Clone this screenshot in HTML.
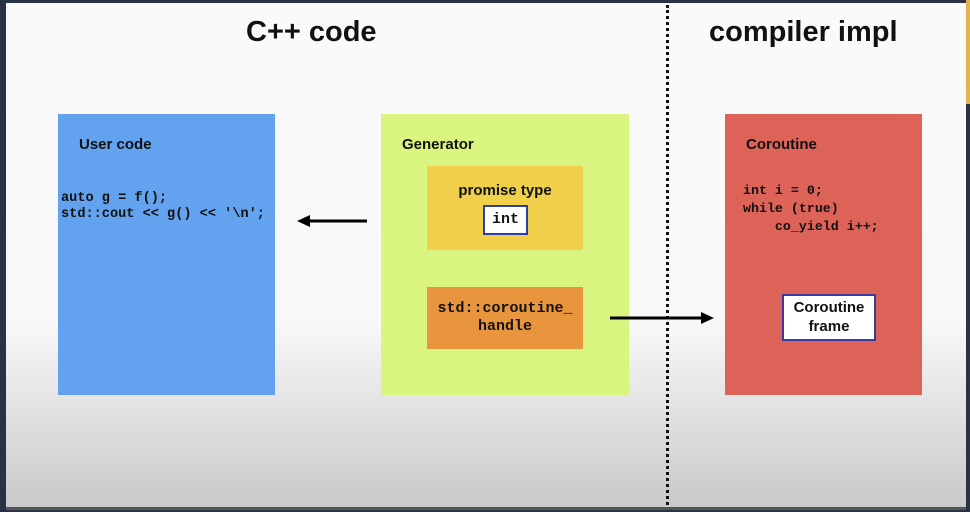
<!DOCTYPE html>
<html><head><style>
body{margin:0;width:970px;height:512px;overflow:hidden;position:relative;font-family:"Liberation Sans",sans-serif;background:#2a3345}
.bg{position:absolute;left:6px;top:3px;width:960px;height:505px;background:linear-gradient(#fafafa 0px,#f8f8f8 320px,#c9c9c9 505px)}
.b{position:absolute}
.m{font-family:"Liberation Mono",monospace;font-weight:bold}
h1{position:absolute;margin:0;font-size:29px;font-weight:bold;color:#111;top:16px}
</style></head><body>
<div class="bg"></div>
<div class="b" style="left:966px;top:0;width:4px;height:104px;background:#e8b24a"></div>
<div class="b" style="left:6px;top:507px;width:960px;height:3px;background:#555"></div>
<h1 style="left:246px">C++ code</h1>
<h1 style="left:709px">compiler impl</h1>
<div class="b" style="left:666px;top:5px;height:500px;border-left:3px dotted #111"></div>

<div class="b" style="left:58px;top:114px;width:217px;height:281px;background:#62a2ee"></div>
<div class="b" style="left:79px;top:136px;font-size:15px;font-weight:bold;color:#111">User code</div>
<div class="b m" style="left:61px;top:191px;font-size:13.6px;line-height:16px;color:#111">auto g = f();<br>std::cout &lt;&lt; g() &lt;&lt; '\n';</div>

<div class="b" style="left:381px;top:114px;width:248px;height:281px;background:#d9f57f"></div>
<div class="b" style="left:402px;top:136px;font-size:15px;font-weight:bold;color:#111">Generator</div>
<div class="b" style="left:427px;top:166px;width:156px;height:84px;background:#f0cf4a"></div>
<div class="b" style="left:427px;top:182px;width:156px;text-align:center;font-size:15px;font-weight:bold;color:#111">promise type</div>
<div class="b m" style="left:483px;top:205px;width:41px;height:26px;background:#fff;border:2px solid #2c3fa8;text-align:center;line-height:26px;font-size:15px;color:#111">int</div>
<div class="b" style="left:427px;top:287px;width:156px;height:62px;background:#e8953e"></div>
<div class="b m" style="left:427px;top:300px;width:156px;text-align:center;font-size:15px;line-height:18px;color:#111">std::coroutine_<br>handle</div>

<div class="b" style="left:725px;top:114px;width:197px;height:281px;background:#dd6358"></div>
<div class="b" style="left:746px;top:136px;font-size:15px;font-weight:bold;color:#111">Coroutine</div>
<div class="b m" style="left:743px;top:182px;font-size:13.3px;line-height:18px;color:#111;white-space:pre">int i = 0;
while (true)
    co_yield i++;</div>
<div class="b" style="left:782px;top:294px;width:90px;height:41px;background:#fff;border:2px solid #3a3aa0;text-align:center;font-size:15px;font-weight:bold;line-height:19px;color:#111;padding-top:2px">Coroutine<br>frame</div>

<svg class="b" style="left:0;top:0" width="970" height="512">
<line x1="367" y1="221" x2="308" y2="221" stroke="#000" stroke-width="3"/>
<polygon points="297,221 310,215 310,227" fill="#000"/>
<line x1="610" y1="318" x2="702" y2="318" stroke="#000" stroke-width="3"/>
<polygon points="714,318 701,312 701,324" fill="#000"/>
</svg>
</body></html>
